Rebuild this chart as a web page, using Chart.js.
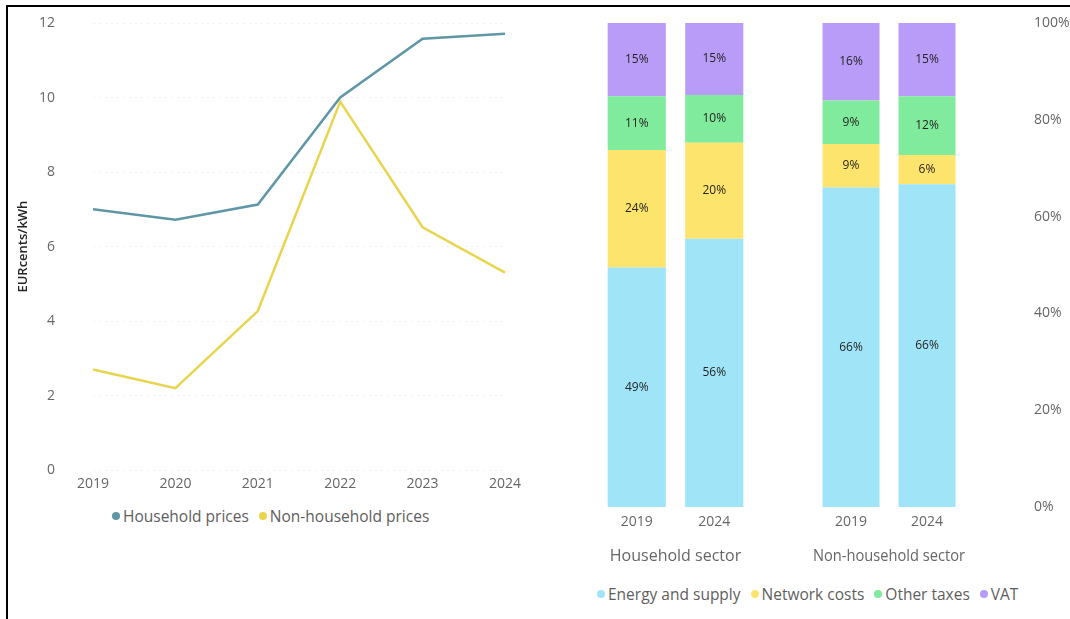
<!DOCTYPE html>
<html>
<head>
<meta charset="utf-8">
<script src="https://cdn.jsdelivr.net/npm/chart.js@4.4.1/dist/chart.umd.min.js"></script>
<style>
  html, body { margin: 0; padding: 0; background: #fff; }
  body { width: 1070px; height: 619px; position: relative; overflow: hidden; font-family: "Open Sans", sans-serif; }
  .frame { position: absolute; left: 6px; top: 5px; right: 0; bottom: 0; border-top: 2px solid #000; border-left: 2px solid #000; }
  .box { position: absolute; }
  .legend { position: absolute; display: flex; align-items: center; font-size: 15.5px; color: #605e5c; white-space: nowrap; }
  .legend span.item { display: flex; align-items: center; margin-right: 10px; }
  .legend span.dot { width: 8px; height: 8px; border-radius: 50%; margin-right: 3px; display: inline-block; }
</style>
</head>
<body>
<div class="frame"></div>
<div class="box" style="left:0;top:0;width:540px;height:501px;"><canvas id="chartPrices"></canvas></div>
<div class="box" style="left:598px;top:0;width:155px;height:566px;"><canvas id="chartHousehold"></canvas></div>
<div class="box" style="left:813px;top:0;width:257px;height:566px;"><canvas id="chartNonHousehold"></canvas></div>
<div class="legend" id="priceLegend" style="left:112px;top:505px;"></div>
<div class="legend" id="shareLegend" style="left:597px;top:583px;"></div>

<script>
// ---------------- DATA ----------------
const years = ['2019', '2020', '2021', '2022', '2023', '2024'];
const householdPrices = [7.0, 6.72, 7.13, 10.0, 11.58, 11.71];
const nonHouseholdPrices = [2.7, 2.2, 4.27, 9.89, 6.52, 5.3];
const priceSeries = ['Household prices', 'Non-household prices'];
const priceColors = ['#5f97a6', '#e9d44e'];

const sectors = ['Household sector', 'Non-household sector'];
const sectorYears = ['2019', '2024'];
const components = ['Energy and supply', 'Network costs', 'Other taxes', 'VAT'];
const componentColors = ['#a0e4f8', '#fde46c', '#80eb9c', '#b99cf7'];
// shares in %, [2019, 2024]
const householdEnergy = [49, 56];
const householdNetwork = [24, 20];
const householdOther = [11, 10];
const householdVat = [15, 15];
const nonHouseholdEnergy = [66, 66];
const nonHouseholdNetwork = [9, 6];
const nonHouseholdOther = [9, 12];
const nonHouseholdVat = [16, 15];

const FONT = '"Open Sans", sans-serif';
const TICK_COLOR = '#666666';

// ---------------- LINE CHART ----------------
new Chart(document.getElementById('chartPrices'), {
  type: 'line',
  data: {
    labels: years,
    datasets: [householdPrices, nonHouseholdPrices].map((values, i) => ({
      label: priceSeries[i],
      data: values,
      borderColor: priceColors[i],
      backgroundColor: priceColors[i],
      borderWidth: 2.5,
      pointRadius: 0,
      tension: 0,
    })),
  },
  options: {
    responsive: true,
    maintainAspectRatio: false,
    animation: false,
    layout: { padding: { left: 12, right: 35, top: 23, bottom: 4 } },
    plugins: { legend: { display: false }, tooltip: { enabled: false } },
    scales: {
      x: {
        grid: { display: false, drawTicks: false },
        border: { display: false },
        ticks: { color: TICK_COLOR, font: { family: FONT, size: 14 }, padding: 5, maxRotation: 0 },
      },
      y: {
        min: 0,
        max: 12,
        // a transparent tick mark keeps the labels clear of the plot without adding top padding
        ticks: { stepSize: 2, color: TICK_COLOR, font: { family: FONT, size: 14 }, padding: 4 },
        grid: { color: 'rgba(0,0,0,0.06)', tickLength: 34, tickColor: 'transparent' },
        border: { display: false, dash: [2, 4] },
        title: { display: true, text: 'EURcents/kWh', color: '#252423', font: { family: FONT, size: 13, weight: '600' }, padding: { top: 3, bottom: 0 } },
        afterFit: (scale) => { scale.width = 81; },
      },
    },
  },
});

// ---------------- STACKED BARS ----------------
const barLabels = {
  id: 'barLabels',
  afterDatasetsDraw(chart) {
    const ctx = chart.ctx;
    ctx.save();
    ctx.font = `12px ${FONT}`;
    ctx.fillStyle = '#252423';
    ctx.textAlign = 'center';
    ctx.textBaseline = 'middle';
    chart.data.datasets.forEach((ds, i) => {
      chart.getDatasetMeta(i).data.forEach((bar, j) => {
        ctx.fillText(ds.shares[j] + '%', bar.x, (bar.y + bar.base) / 2);
      });
    });
    ctx.restore();
  },
};

function sectorChart(canvasId, sector, parts, showAxis) {
  const totals = sectorYears.map((_, j) => parts.reduce((s, p) => s + p[j], 0));
  const yAxis = {
    stacked: true,
    display: showAxis,
    position: 'right',
    min: 0,
    max: 100,
    grid: { display: false, tickLength: 65, tickColor: 'transparent' },
    border: { display: false },
    ticks: { stepSize: 20, color: TICK_COLOR, font: { family: FONT, size: 14 }, padding: 4, callback: (v) => v + '%' },
  };
  if (showAxis) yAxis.afterFit = (scale) => { scale.width = 105; };
  return new Chart(document.getElementById(canvasId), {
    type: 'bar',
    data: {
      labels: sectorYears,
      datasets: parts.map((p, i) => ({
        label: components[i],
        shares: p,
        data: p.map((v, j) => (v / totals[j]) * 100),
        backgroundColor: componentColors[i],
        barPercentage: 0.75,
        categoryPercentage: 1,
      })),
    },
    options: {
      responsive: true,
      maintainAspectRatio: false,
      animation: false,
      layout: { padding: { top: 23, left: 0, right: 0, bottom: 0 } },
      plugins: { legend: { display: false }, tooltip: { enabled: false } },
      scales: {
        x: {
          stacked: true,
          grid: { display: false, drawTicks: false },
          border: { display: false },
          ticks: { color: TICK_COLOR, font: { family: FONT, size: 14 }, padding: 6.5, maxRotation: 0 },
          title: { display: true, text: sector, color: TICK_COLOR, font: { family: FONT, size: 16 }, padding: { top: 10, bottom: 0 } },
        },
        y: yAxis,
      },
    },
    plugins: [barLabels],
  });
}

sectorChart('chartHousehold', sectors[0], [householdEnergy, householdNetwork, householdOther, householdVat], false);
sectorChart('chartNonHousehold', sectors[1], [nonHouseholdEnergy, nonHouseholdNetwork, nonHouseholdOther, nonHouseholdVat], true);

// ---------------- LEGENDS ----------------
function buildLegend(el, names, colors) {
  names.forEach((name, i) => {
    const item = document.createElement('span');
    item.className = 'item';
    const dot = document.createElement('span');
    dot.className = 'dot';
    dot.style.background = colors[i];
    item.appendChild(dot);
    item.appendChild(document.createTextNode(name));
    el.appendChild(item);
  });
}
buildLegend(document.getElementById('priceLegend'), priceSeries, priceColors);
buildLegend(document.getElementById('shareLegend'), components, componentColors);
</script>
</body>
</html>
